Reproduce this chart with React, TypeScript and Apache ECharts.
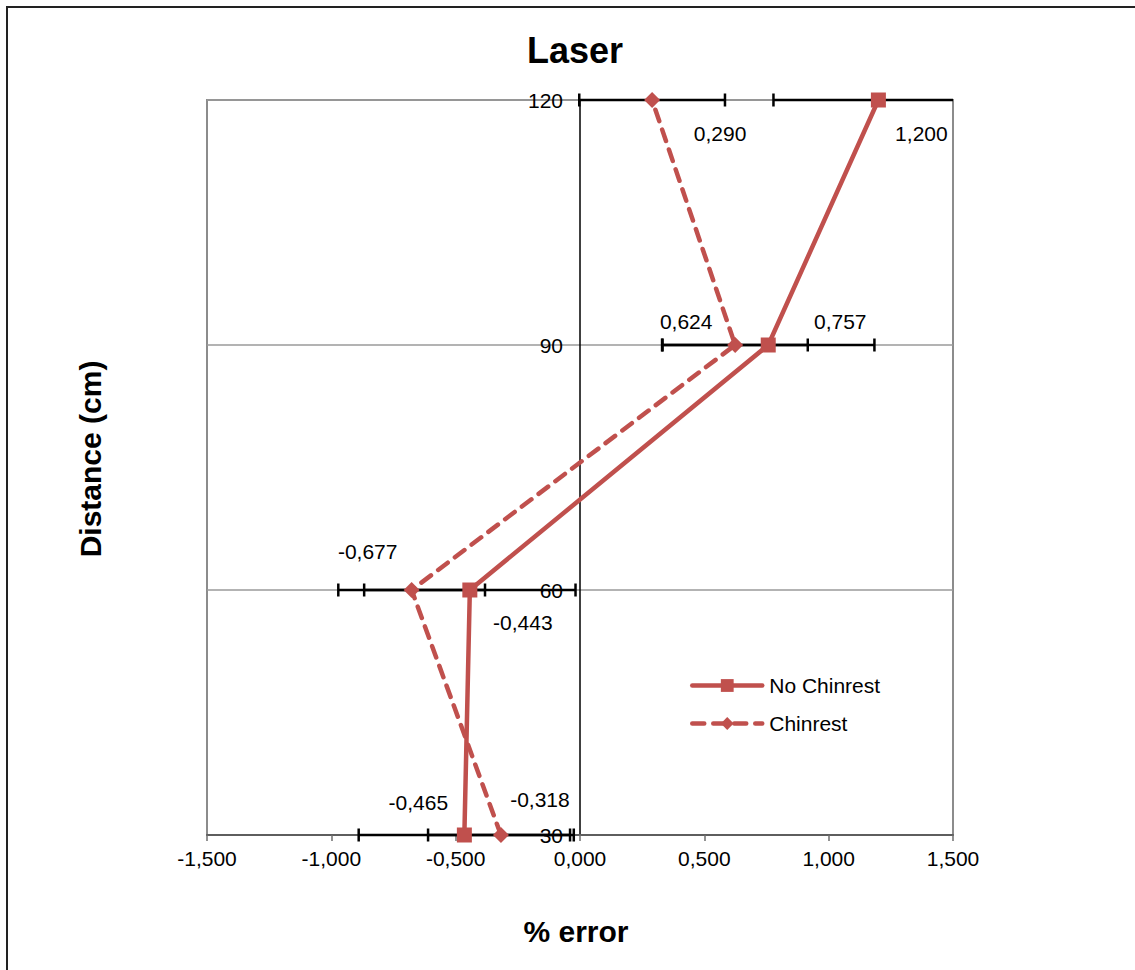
import React, { useEffect, useRef } from "react";
import * as echarts from "echarts";

const distances = [30, 60, 90, 120];
const noChinrest = [-0.465, -0.443, 0.757, 1.2];
const chinrest = [-0.318, -0.677, 0.624, 0.29];
const noChinrestErr = [0.425, 0.425, 0.427, 0.422];
const chinrestErr = [0.293, 0.295, 0.292, 0.293];
const xTicks = { min: -1.5, max: 1.5, interval: 0.5 };
const yTicks = { min: 30, max: 120, interval: 30 };

// label offsets (style only)
const noChinLabelOffsets = [[-46, -33], [53, 32], [72, -24], [43, 33]];
const chinLabelOffsets = [[39, -36], [-44, -39], [-49, -24], [68, 33]];

const RED = "#C0504D";
const FONT = "Liberation Sans, Arial, sans-serif";

const fmt = (v: number) => v.toFixed(3).replace(".", ",");

export default function App() {
  const ref = useRef<HTMLDivElement>(null);
  useEffect(() => {
    if (!ref.current) return;
    const chart = echarts.init(ref.current, undefined, { renderer: "svg" });

    const mkData = (xs: number[], offs: number[][]) =>
      xs.map((x, i) => ({
        value: [x, distances[i]],
        label: { offset: offs[i] },
      }));

    const errRender = (params: any, api: any) => {
      const x = api.value(0);
      const y = api.value(1);
      const e = api.value(2);
      const p1 = api.coord([x - e, y]);
      const p2 = api.coord([x + e, y]);
      const cs = params.coordSys;
      const left = cs.x;
      const right = cs.x + cs.width;
      const a = Math.max(p1[0], left);
      const b = Math.min(p2[0], right);
      const st = { stroke: "#000", lineWidth: 2.5 };
      const children: any[] = [
        { type: "line", shape: { x1: a, y1: p1[1], x2: b, y2: p1[1] }, style: st },
      ];
      if (p1[0] >= left - 0.5)
        children.push({ type: "line", shape: { x1: p1[0], y1: p1[1] - 6.5, x2: p1[0], y2: p1[1] + 6.5 }, style: st });
      if (p2[0] <= right + 0.5)
        children.push({ type: "line", shape: { x1: p2[0], y1: p2[1] - 6.5, x2: p2[0], y2: p2[1] + 6.5 }, style: st });
      return { type: "group", children };
    };

    const labelBase = {
      show: true,
      position: "inside",
      align: "center",
      verticalAlign: "middle",
      color: "#000",
      fontSize: 21,
      fontFamily: FONT,
      formatter: (p: any) => fmt(p.value[0]),
    };

    chart.setOption({
      animation: false,
      textStyle: { fontFamily: FONT },
      grid: { left: 207, right: 182, top: 100, bottom: 135, show: true, borderColor: "#8c8c8c", borderWidth: 2, containLabel: false },
      xAxis: {
        type: "value",
        min: xTicks.min,
        max: xTicks.max,
        interval: xTicks.interval,
        axisLine: { show: true, onZero: false, lineStyle: { color: "#5e5e5e", width: 2 } },
        axisTick: { show: true, length: 6, lineStyle: { color: "#6e6e6e", width: 1.5 } },
        axisLabel: { color: "#000", fontSize: 21, fontFamily: FONT, margin: 13, formatter: (v: number) => fmt(v) },
        splitLine: { show: false },
      },
      yAxis: {
        type: "value",
        min: yTicks.min,
        max: yTicks.max,
        interval: yTicks.interval,
        offset: -373,
        axisLine: { show: true, onZero: false, lineStyle: { color: "#000", width: 1.5 } },
        axisTick: { show: false },
        axisLabel: { color: "#000", fontSize: 21, fontFamily: FONT, margin: 17 },
        splitLine: { show: true, lineStyle: { color: "#9a9a9a", width: 1.5 } },
      },
      legend: {
        orient: "vertical",
        left: 685,
        top: 670,
        itemWidth: 70,
        itemHeight: 16,
        itemGap: 17,
        lineStyle: { width: 4.5, cap: "round" },
        textStyle: { color: "#000", fontSize: 21, fontFamily: FONT, padding: [0, 0, 0, 2] },
        data: ["No Chinrest", "Chinrest"],
      },
      graphic: [
        { type: "rect", shape: { x: 7, y: 7, width: 1140, height: 980 }, style: { fill: "none", stroke: "#222", lineWidth: 2 }, z: -10, silent: true },
        { type: "text", x: 575, y: 50, style: { text: "Laser", font: `bold 36px ${FONT}`, fill: "#000", align: "center", verticalAlign: "middle" } },
        { type: "text", x: 576, y: 931, style: { text: "% error", font: `bold 30px ${FONT}`, fill: "#000", align: "center", verticalAlign: "middle" } },
        { type: "text", x: 90, y: 459, rotation: Math.PI / 2, style: { text: "Distance (cm)", font: `bold 30px ${FONT}`, fill: "#000", align: "center", verticalAlign: "middle" } },
      ],
      series: [
        {
          type: "custom",
          name: "errNo",
          renderItem: errRender,
          data: noChinrest.map((x, i) => [x, distances[i], noChinrestErr[i]]),
          encode: { x: 0, y: 1 },
          z: 1,
          silent: true,
        },
        {
          type: "custom",
          name: "errChin",
          renderItem: errRender,
          data: chinrest.map((x, i) => [x, distances[i], chinrestErr[i]]),
          encode: { x: 0, y: 1 },
          z: 1,
          silent: true,
        },
        {
          type: "line",
          name: "No Chinrest",
          data: mkData(noChinrest, noChinLabelOffsets),
          symbol: "rect",
          symbolSize: 15,
          clip: false,
          z: 3,
          lineStyle: { color: RED, width: 4.5 },
          itemStyle: { color: RED },
          label: labelBase,
        },
        {
          type: "line",
          name: "Chinrest",
          data: mkData(chinrest, chinLabelOffsets),
          symbol: "diamond",
          symbolSize: 16,
          clip: false,
          z: 3,
          lineStyle: { color: RED, width: 4.5, type: [12, 9], cap: "round" },
          itemStyle: { color: RED },
          label: labelBase,
        },
      ],
    });
    return () => chart.dispose();
  }, []);
  return <div ref={ref} style={{ position: "absolute", left: 0, top: 0, width: 1135, height: 970 }} />;
}
